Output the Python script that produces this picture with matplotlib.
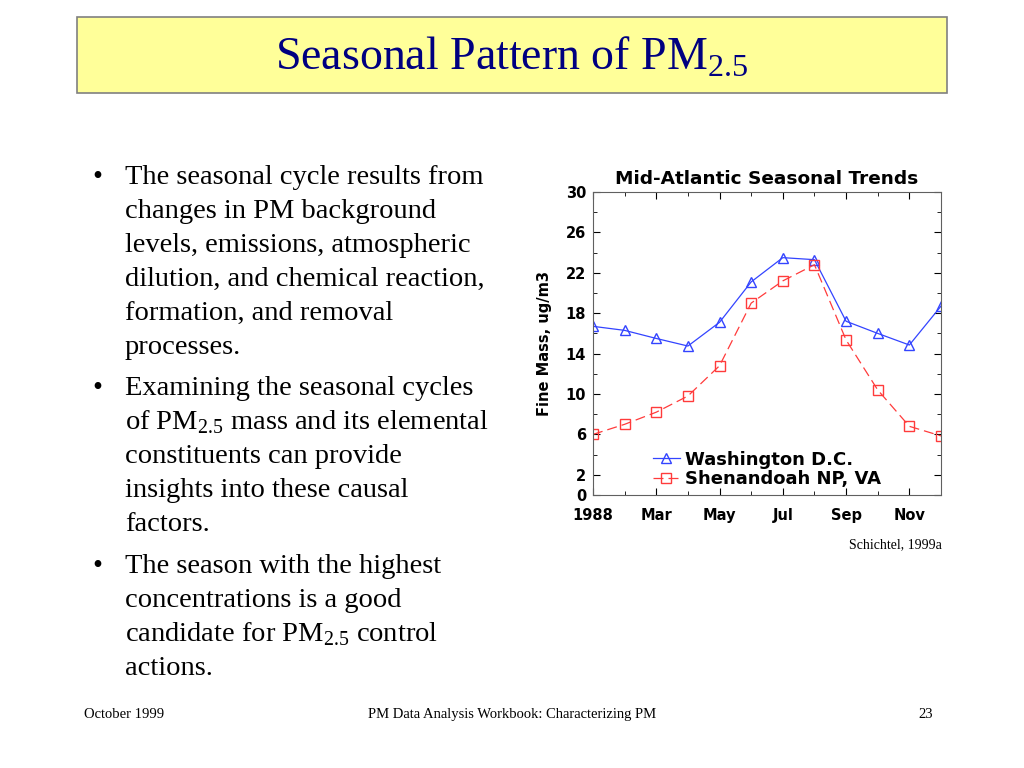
import matplotlib.pyplot as plt
from matplotlib.patches import Rectangle
from matplotlib.ticker import MultipleLocator

plt.rcParams['mathtext.fontset'] = 'custom'
plt.rcParams['mathtext.rm'] = 'Liberation Serif'

# monthly means, 1988
months = [1, 2, 3, 4, 5, 6, 7, 8, 9, 10, 11, 12]
washington = [16.7, 16.3, 15.5, 14.75, 17.1, 21.1, 23.5, 23.3, 17.2, 16.0, 14.85, 18.7]
shenandoah = [6.0, 7.0, 8.2, 9.8, 12.8, 19.0, 21.2, 22.8, 15.35, 10.4, 6.8, 5.85]
tick_months = [1, 3, 5, 7, 9, 11]
tick_labels = ['1988', 'Mar', 'May', 'Jul', 'Sep', 'Nov']
y_ticks = [0, 2, 6, 10, 14, 18, 22, 26, 30]

bullets = [
    ['The seasonal cycle results from', 'changes in PM background',
     'levels, emissions, atmospheric', 'dilution, and chemical reaction,',
     'formation, and removal', 'processes.'],
    ['Examining the seasonal cycles', r'of PM$_\mathrm{2.5}$ mass and its elemental',
     'constituents can provide', 'insights into these causal', 'factors.'],
    ['The season with the highest', 'concentrations is a good',
     r'candidate for PM$_\mathrm{2.5}$ control', 'actions.'],
]
bullet_tops = [177, 388, 566]

fig = plt.figure(figsize=(10.24, 7.68), dpi=100)
W, H = 1024, 768

# title box
fig.patches.append(Rectangle((77 / W, 1 - 93 / H), 870 / W, 76 / H, transform=fig.transFigure,
                             facecolor='#ffff99', edgecolor='#808080', linewidth=1.2))
fig.text(512 / W, 1 - 57 / H, r'Seasonal Pattern of PM$_\mathrm{2.5}$', ha='center', va='center',
         family='Liberation Serif', fontsize=33, color='#000080')

# bullet text
for lines, top in zip(bullets, bullet_tops):
    fig.text(92 / W, 1 - (top + 7) / H, '\u2022', family='Liberation Serif', fontsize=20.5,
             va='baseline')
    for i, line in enumerate(lines):
        fig.text(125 / W, 1 - (top + 7 + i * 34) / H, line, family='Liberation Serif',
                 fontsize=20.5, va='baseline')

# footer
foot = dict(family='Liberation Serif', fontsize=10.5, va='baseline')
fig.text(84 / W, 1 - 718 / H, 'October 1999', **foot)
fig.text(512 / W, 1 - 718 / H, 'PM Data Analysis Workbook: Characterizing PM', ha='center', **foot)
fig.text(933 / W, 1 - 718 / H, '23', ha='right', **foot)
fig.text(942 / W, 1 - 548 / H, 'Schichtel, 1999a', family='Liberation Serif', fontsize=10,
         va='baseline', ha='right')

# chart
ax = fig.add_axes([593 / W, 1 - 495 / H, 348 / W, 303 / H])
ax.plot(months, washington, color='#3344ff', linewidth=0.9, marker='^', markersize=7.5,
        markerfacecolor='none', markeredgecolor='#3344ff', label='Washington D.C.')
ax.plot(months, shenandoah, color='#ff3b3b', linewidth=0.9, dashes=(8, 4), marker='s', markersize=7,
        markerfacecolor='none', markeredgecolor='#ff3b3b', label='Shenandoah NP, VA')
ax.set_xlim(1, 12)
ax.set_ylim(0, 30)
ax.set_xticks(tick_months)
ax.set_xticklabels(tick_labels)
ax.xaxis.set_minor_locator(MultipleLocator(1))
ax.set_yticks(y_ticks)
ax.yaxis.set_minor_locator(MultipleLocator(2))
ax.tick_params(which='both', direction='in', top=True, right=True, labelsize=10.5)
ax.tick_params(axis='x', pad=18)
ax.tick_params(axis='y', pad=5)
ax.tick_params(which='major', length=5)
ax.tick_params(which='minor', length=3)
for lab in ax.get_xticklabels():
    lab.set_fontweight('bold')
    lab.set_va('baseline')
for lab in ax.get_yticklabels():
    lab.set_fontweight('bold')
for s in ax.spines.values():
    s.set_color('#606060')
    s.set_linewidth(0.8)
ax.set_title('Mid-Atlantic Seasonal Trends', fontsize=13.3, fontweight='bold', pad=6)
ax.set_ylabel('Fine Mass, ug/m3', fontsize=10.5, fontweight='heavy', labelpad=10)
ax.legend(loc='lower center', bbox_to_anchor=(0.5, -0.02), frameon=False,
          prop={'weight': 'bold', 'size': 13}, handlelength=1.5, handletextpad=0.3,
          labelspacing=0.1, borderaxespad=0.3)

fig.savefig('out.png', dpi=100)
